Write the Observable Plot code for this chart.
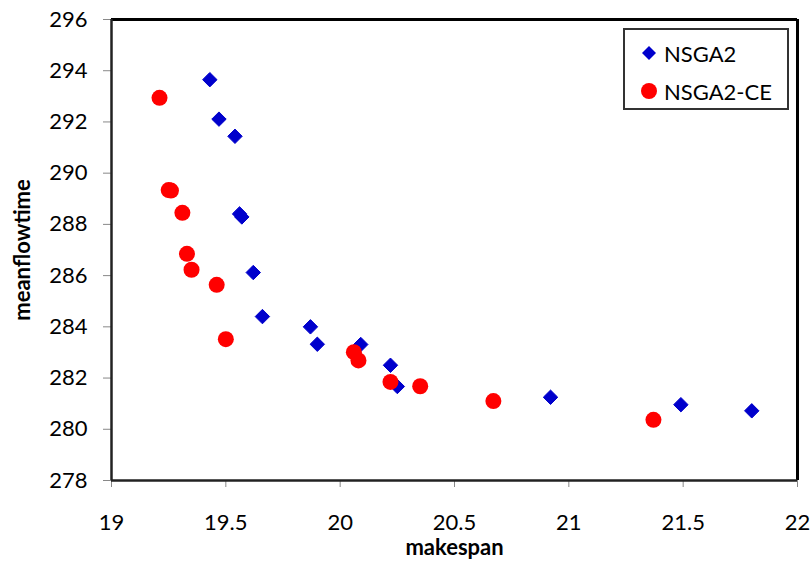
<!DOCTYPE html>
<html>
<head>
<meta charset="utf-8">
<script src="https://cdn.jsdelivr.net/npm/d3@7"></script>
<script src="https://cdn.jsdelivr.net/npm/@observablehq/plot@0.6"></script>
<style>
  body { margin: 0; background: #fff; }
  #wrap { position: relative; width: 812px; height: 564px; }
  #legend {
    position: absolute; left: 623px; top: 28px; width: 162px; height: 78px;
    border: 2px solid #333; background: #fff;
    font-family: Lato, sans-serif; font-size: 22px; color: #000;
  }
  .item { position: absolute; left: 0; display: flex; align-items: center; }
  .item svg { margin-left: 15px; margin-right: 6px; }
</style>
</head>
<body>
<div id="wrap"></div>
<script>
const seriesNames = ["NSGA2", "NSGA2-CE"];
const nsga2X = [19.43, 19.47, 19.54, 19.56, 19.57, 19.62, 19.66, 19.87, 19.90, 20.09, 20.22, 20.25, 20.92, 21.49, 21.80];
const nsga2Y = [293.65, 292.11, 291.44, 288.41, 288.29, 286.12, 284.40, 284.00, 283.32, 283.31, 282.50, 281.67, 281.25, 280.96, 280.72];
const ceX = [19.21, 19.25, 19.26, 19.31, 19.33, 19.35, 19.46, 19.50, 20.06, 20.08, 20.22, 20.35, 20.67, 21.37];
const ceY = [292.94, 289.34, 289.32, 288.45, 286.85, 286.23, 285.64, 283.52, 283.01, 282.69, 281.85, 281.68, 281.10, 280.37];
const xTicks = [19, 19.5, 20, 20.5, 21, 21.5, 22];
const yTicks = [278, 280, 282, 284, 286, 288, 290, 292, 294, 296];
const colors = ["#0000CC", "#FF0000"];

const nsga2 = nsga2X.map((x, i) => ({x, y: nsga2Y[i]}));
const ce = ceX.map((x, i) => ({x, y: ceY[i]}));

const font = "Lato, sans-serif";
const chart = Plot.plot({
  width: 812, height: 564,
  marginLeft: 111, marginRight: 15, marginTop: 19, marginBottom: 84,
  style: {fontFamily: font, fontSize: "22px", color: "#000", background: "#fff"},
  x: {domain: [19, 22]},
  y: {domain: [278, 296]},
  marks: [
    Plot.axisX({ticks: xTicks, tickFormat: d => String(d), tickSize: 7, tickPadding: 27, stroke: "#888", label: null, fontSize: 22}),
    Plot.axisY({ticks: yTicks, tickFormat: d => String(d), tickSize: 8, tickPadding: 16, stroke: "#888", label: null, fontSize: 22}),
    Plot.ruleY([296], {stroke: "#000", strokeWidth: 3}),
    Plot.ruleX([22], {stroke: "#000", strokeWidth: 3}),
    Plot.ruleX([19], {stroke: "#222", strokeWidth: 2.5}),
    Plot.ruleY([278], {stroke: "#222", strokeWidth: 2.5}),
    Plot.dot(nsga2, {x: "x", y: "y", symbol: "diamond2", r: 6.5, fill: colors[0], stroke: colors[0], strokeWidth: 1}),
    Plot.dot(ce, {x: "x", y: "y", symbol: "circle", r: 8, fill: colors[1], stroke: colors[1], strokeWidth: 0}),
    Plot.text(["makespan"], {frameAnchor: "bottom", lineAnchor: "middle", textAnchor: "middle", dy: 67, fontWeight: "bold", fontSize: 22, fill: "#000"}),
    Plot.text(["meanflowtime"], {frameAnchor: "left", textAnchor: "middle", lineAnchor: "middle", dx: -89, rotate: -90, fontWeight: "bold", fontSize: 22, fill: "#000"})
  ]
});
const wrap = document.getElementById("wrap");
wrap.appendChild(chart);

const legend = document.createElement("div");
legend.id = "legend";
const tops = [9, 47];
seriesNames.forEach((name, i) => {
  const it = document.createElement("div");
  it.className = "item";
  it.style.top = tops[i] + "px";
  it.style.height = "28px";
  const sym = i === 0
    ? `<svg width="18" height="18"><path d="M9,2 L16,9 L9,16 L2,9Z" fill="${colors[0]}"/></svg>`
    : `<svg width="18" height="18"><circle cx="9" cy="9" r="8" fill="${colors[1]}"/></svg>`;
  it.innerHTML = sym + `<span>${name}</span>`;
  legend.appendChild(it);
});
wrap.appendChild(legend);
</script>
</body>
</html>
